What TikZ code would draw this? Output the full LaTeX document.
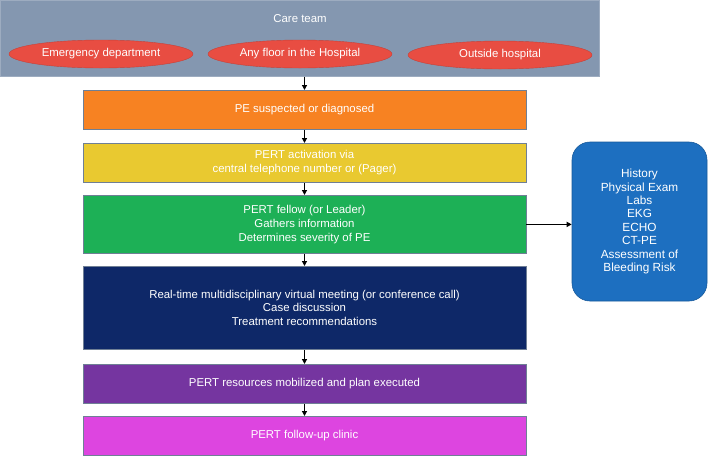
\documentclass[tikz,border=0pt]{standalone}
\usepackage{fontspec}
\setmainfont{Liberation Sans}
\usetikzlibrary{shapes.geometric,arrows.meta}
\definecolor{careteam}{HTML}{8497B0}
\definecolor{ellred}{HTML}{E84D42}
\definecolor{orangebox}{HTML}{F78222}
\definecolor{yellowbox}{HTML}{E9C930}
\definecolor{greenbox}{HTML}{1DB056}
\definecolor{navybox}{HTML}{0E2868}
\definecolor{purplebox}{HTML}{7535A0}
\definecolor{magentabox}{HTML}{DD45E0}
\definecolor{bluebox}{HTML}{1D6FC0}
\definecolor{edgegray}{HTML}{6F7F95}
\tikzset{
  x=1pt, y=-1pt,
  txt/.style={text=white, font=\fontsize{11.4}{13.8}\selectfont, align=center},
  stepbox/.style={draw=edgegray, line width=0.8pt, minimum width=443pt, anchor=north, inner sep=0pt, txt},
  oval/.style={ellipse, fill=ellred, draw=ellred!85!black, line width=0.4pt, minimum width=184pt, minimum height=28pt, inner sep=0pt, txt},
  flow/.style={-{Triangle[length=5pt,width=5pt]}, line width=1.6pt, black},
}
\begin{document}
\begin{tikzpicture}
\useasboundingbox (0,0) rectangle (709,456);
% care team
\node[fill=careteam, draw=careteam!80!white, line width=0.6pt, minimum width=599pt, minimum height=76pt, anchor=north west, inner sep=0pt] (care) at (0,0) {};
\node[txt] (caretxt) at (300,19) {Care team};
\node[oval] (ed) at (101,54) {Emergency department};
\node[oval] (floor) at (300,54) {Any floor in the Hospital};
\node[oval] (out) at (500,55) {Outside hospital};
% steps
\node[stepbox, fill=orangebox, minimum height=39pt] (pe) at (304.5,90) {PE suspected or diagnosed};
\node[stepbox, fill=yellowbox, minimum height=39pt] (act) at (304.5,143) {PERT activation via\\central telephone number or (Pager)};
\node[stepbox, fill=greenbox, minimum height=58pt] (fel) at (304.5,195) {PERT fellow (or Leader)\\Gathers information\\Determines severity of PE};
\node[stepbox, fill=navybox, minimum height=83pt] (meet) at (304.5,266) {Real-time multidisciplinary virtual meeting (or conference call)\\Case discussion\\Treatment recommendations};
\node[stepbox, fill=purplebox, minimum height=39pt] (res) at (304.5,364) {PERT resources mobilized and plan executed};
\node[stepbox, fill=magentabox, minimum height=39pt] (fu) at (304.5,416) {PERT follow-up clinic};
% side box
\node[draw=bluebox!80!black, line width=0.6pt, fill=bluebox, rounded corners=18pt, minimum width=135pt, minimum height=159pt, inner sep=0pt, txt, font=\fontsize{11.8}{13.4}\selectfont] (hist) at (639.5,221.5) {History\\Physical Exam\\Labs\\EKG\\ECHO\\CT-PE\\Assessment of\\Bleeding Risk};
% arrows
\draw[flow] (care.south -| pe.north) -- (pe.north);
\draw[flow] (pe.south) -- (act.north);
\draw[flow] (act.south) -- (fel.north);
\draw[flow] (fel.south) -- (meet.north);
\draw[flow] (meet.south) -- (res.north);
\draw[flow] (res.south) -- (fu.north);
\draw[flow] (fel.east) -- (fel.east -| hist.west);
\end{tikzpicture}
\end{document}
